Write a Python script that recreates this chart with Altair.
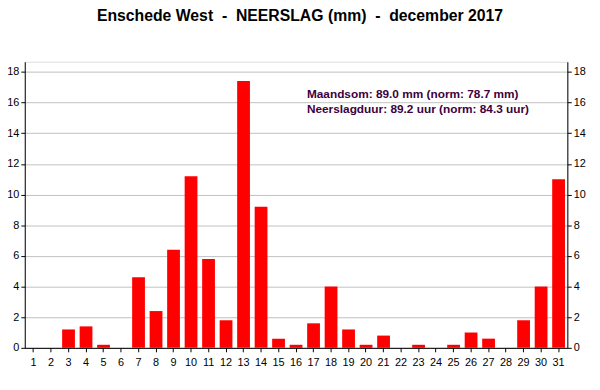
import altair as alt
import pandas as pd

days = list(range(1, 32))
rain = [0.0, 0.0, 1.2, 1.4, 0.2, 0.0, 4.6, 2.4, 6.4, 11.2, 5.8, 1.8, 17.4, 9.2, 0.6,
        0.2, 1.6, 4.0, 1.2, 0.2, 0.8, 0.0, 0.2, 0.0, 0.2, 1.0, 0.6, 0.0, 1.8, 4.0, 11.0]
notes = ["Maandsom: 89.0 mm (norm: 78.7 mm)", "Neerslagduur: 89.2 uur (norm: 84.3 uur)"]
note_y = [16.54, 15.57]
y_ticks = [0, 2, 4, 6, 8, 10, 12, 14, 16, 18]
title_text = "Enschede West\u00a0\u00a0-\u00a0\u00a0NEERSLAG (mm)\u00a0\u00a0-\u00a0\u00a0december 2017"

df = pd.DataFrame({"dag": days, "neerslag": rain})
notes_df = pd.DataFrame({"txt": notes, "y": note_y})

FONT = "Liberation Sans"
ydom = [0, 18.66]

xenc = alt.X("dag:O", scale=alt.Scale(paddingInner=0.27, paddingOuter=0.135),
             axis=alt.Axis(title=None, labelAngle=0, labelFontSize=11, labelColor="black",
                           tickColor="black", domainColor="black", tickSize=4,
                           labelFont=FONT, labelPadding=5))

bars = alt.Chart(df).mark_bar(color="#ff0000").encode(
    x=xenc,
    y=alt.Y("neerslag:Q", scale=alt.Scale(domain=ydom, nice=False, zero=True),
            axis=alt.Axis(title=None, values=y_ticks, grid=True, gridColor="#c0c0c0",
                          labelFontSize=11, labelColor="black", tickColor="black",
                          domainColor="black", tickSize=4, labelFont=FONT, labelPadding=2)),
)

right = alt.Chart(df).mark_bar(opacity=0).encode(
    x=xenc,
    y=alt.Y("neerslag:Q", scale=alt.Scale(domain=ydom, nice=False, zero=True),
            axis=alt.Axis(title=None, orient="right", values=y_ticks, grid=False,
                          labelFontSize=11, labelColor="black", tickColor="black",
                          domainColor="black", tickSize=4, labelFont=FONT, labelPadding=2)),
)

txt = alt.Chart(notes_df).mark_text(align="left", baseline="middle", font=FONT,
                                    fontSize=12, fontWeight="bold", color="#400040").encode(
    x=alt.value(286),
    y=alt.Y("y:Q", scale=alt.Scale(domain=ydom, nice=False), axis=None),
    text="txt:N",
)

chart = alt.layer(bars, txt, right).resolve_scale(y="independent").properties(
    width=550, height=290,
    padding={"left": 17, "top": 52, "right": 25, "bottom": 24},
    autosize=alt.AutoSizeParams(type="none"),
    title=alt.TitleParams(title_text,
                          font=FONT, fontSize=16, fontWeight="bold", color="black",
                          anchor="middle", offset=38, dx=4),
).configure_view(stroke="black", strokeWidth=1).configure(background="white")

chart.save("out.html", embed_options={"renderer": "svg", "actions": False})
